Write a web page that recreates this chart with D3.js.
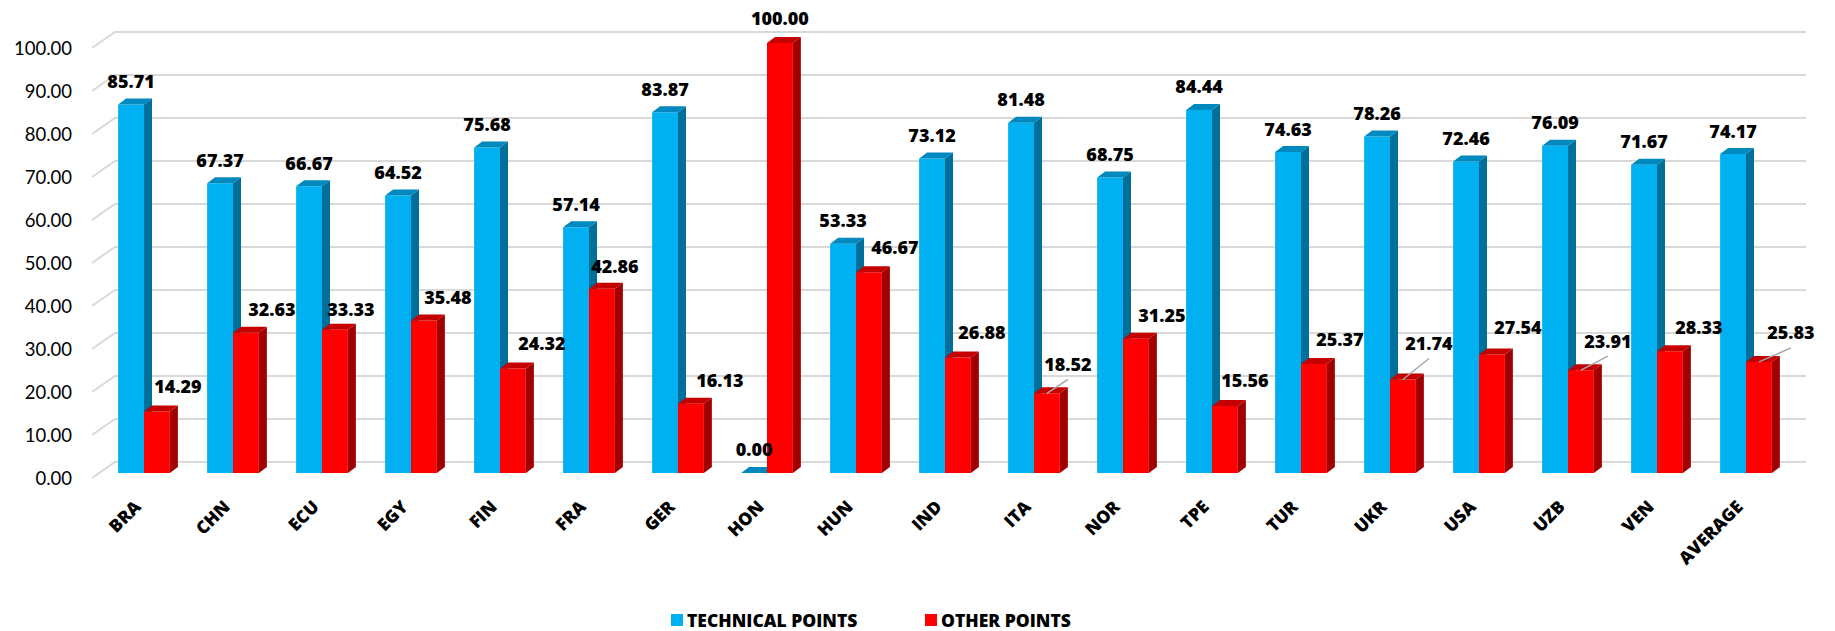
<!DOCTYPE html>
<html>
<head>
<meta charset="utf-8">
<script src="https://cdn.jsdelivr.net/npm/d3@7"></script>
<style>
  body { margin: 0; background: #fff; }
  svg { display: block; }
</style>
</head>
<body>
<div id="chart"></div>
<script>
// ---------------------------DATA-----------------------------------
const categories = ["BRA", "CHN", "ECU", "EGY", "FIN", "FRA", "GER", "HON", "HUN", "IND",
  "ITA", "NOR", "TPE", "TUR", "UKR", "USA", "UZB", "VEN", "AVERAGE"];
const technicalPoints = [85.71, 67.37, 66.67, 64.52, 75.68, 57.14, 83.87, 0.0, 53.33, 73.12,
  81.48, 68.75, 84.44, 74.63, 78.26, 72.46, 76.09, 71.67, 74.17];
const otherPoints = [14.29, 32.63, 33.33, 35.48, 24.32, 42.86, 16.13, 100.0, 46.67, 26.88,
  18.52, 31.25, 15.56, 25.37, 21.74, 27.54, 23.91, 28.33, 25.83];
const seriesNames = ["TECHNICAL POINTS", "OTHER POINTS"];
const yTicks = [0, 10, 20, 30, 40, 50, 60, 70, 80, 90, 100];

// labels of the red series sit beside the bar, as excel placed them [dx, dy]
const redLabelShift = {
  BRA: [21, -25], CHN: [26, -23], ECU: [16, -20], EGY: [24, -23], FIN: [29, -25],
  FRA: [13, -22], GER: [29, -23], HON: [0, -24], HUN: [26, -25], IND: [24, -25],
  ITA: [21, -29], NOR: [26, -23], TPE: [20, -26], TUR: [26, -24], UKR: [26, -36],
  USA: [26, -27], UZB: [27, -29], VEN: [29, -24], AVERAGE: [32, -29]
};
const withLeader = ["ITA", "UKR", "UZB", "AVERAGE"];

// ---------------------------LAYOUT-----------------------------------
const width = 1835;
const height = 631;
const tickFont = "Lato, 'Open Sans', sans-serif";
const boldFont = "'Open Sans', Lato, sans-serif";
const boldWeight = 800;

const depthX = 8, depthY = -6;       // bar depth (side / top faces)
const floorDrop = 11;                // front of bars sits below the back wall
const wallX = 23, wallY = 16;        // left wall diagonal

const colors = {
  front: ["#00B0F0", "#FF0000"],
  side: ["#006F9A", "#A00000"],
  top: ["#0089BE", "#C40000"]
};

const y = d3.scaleLinear().domain([0, 100]).range([462, 32]);
const x = d3.scaleBand().domain(categories).range([99.5, 1790.5]);
const xSub = d3.scaleBand().domain(seriesNames).range([0, x.bandwidth()]).paddingOuter(0.72);

const svg = d3.select("#chart").append("svg")
  .attr("width", width)
  .attr("height", height)
  .attr("viewBox", `0 0 ${width} ${height}`);

// ---------------------------GRID-----------------------------------
const grid = svg.append("g");
const gridLeft = x.range()[0] + 15.5;
const gridRight = x.range()[1] + 15.5;

grid.selectAll("path.grid")
  .data(yTicks)
  .join("path")
  .attr("class", "grid")
  .attr("d", (d) => `M${gridLeft - wallX},${y(d) + wallY}L${gridLeft},${y(d)}L${gridRight},${y(d)}`)
  .attr("fill", "none")
  .attr("stroke", "#D9D9D9")
  .attr("stroke-width", 2);

// y axis labels (no line, no ticks)
const yAxis = svg.append("g")
  .attr("transform", `translate(72, ${floorDrop + 6})`)
  .call(d3.axisLeft(y).tickValues(yTicks).tickFormat(d3.format(".2f")).tickSize(0).tickPadding(0));
yAxis.select(".domain").remove();
yAxis.selectAll("text")
  .attr("font-family", tickFont)
  .attr("font-size", "18.5px")
  .attr("fill", "#000");

// ---------------------------BARS-----------------------------------
const rows = categories.map((c, i) => ({
  cat: c,
  values: [technicalPoints[i], otherPoints[i]]
}));

const bw = xSub.bandwidth();

function barFaces(g, k) {
  g.each(function (d) {
    const v = d.values[k];
    const x0 = x(d.cat) + xSub(seriesNames[k]);
    const x1 = x0 + bw;
    const yb = y(0) + floorDrop;
    const yt = y(v) + floorDrop;
    const sel = d3.select(this);
    // front
    sel.append("path")
      .attr("d", `M${x0},${yb}L${x0},${yt}L${x1},${yt}L${x1},${yb}Z`)
      .attr("fill", colors.front[k]);
    // side
    sel.append("path")
      .attr("d", `M${x1},${yb}L${x1},${yt}L${x1 + depthX},${yt + depthY}L${x1 + depthX},${yb + depthY}Z`)
      .attr("fill", colors.side[k]);
    // top
    sel.append("path")
      .attr("d", `M${x0},${yt}L${x0 + depthX},${yt + depthY}L${x1 + depthX},${yt + depthY}L${x1},${yt}Z`)
      .attr("fill", colors.top[k]);
  });
}

const groups = svg.append("g")
  .selectAll("g.cat")
  .data(rows)
  .join("g")
  .attr("class", "cat");

groups.append("g").call(barFaces, 0);
groups.append("g").call(barFaces, 1);

// ---------------------------LABELS-----------------------------------
const fmt = d3.format(".2f");
const labels = svg.append("g")
  .attr("font-family", boldFont)
  .attr("font-weight", boldWeight)
  .attr("font-size", "18px")
  .attr("fill", "#000")
  .attr("text-anchor", "middle");

labels.selectAll("text.tech")
  .data(rows)
  .join("text")
  .attr("class", "tech")
  .attr("x", (d) => x(d.cat) + xSub(seriesNames[0]) + bw / 2)
  .attr("y", (d) => y(d.values[0]) + floorDrop - 23)
  .attr("dy", "0.36em")
  .text((d) => fmt(d.values[0]));

const redCx = (d) => x(d.cat) + xSub(seriesNames[1]) + bw / 2;
const redTop = (d) => y(d.values[1]) + floorDrop;

svg.append("g")
  .selectAll("line.leader")
  .data(rows.filter((d) => withLeader.includes(d.cat)))
  .join("line")
  .attr("class", "leader")
  .attr("x1", redCx)
  .attr("y1", redTop)
  .attr("x2", (d) => redCx(d) + redLabelShift[d.cat][0])
  .attr("y2", (d) => redTop(d) + redLabelShift[d.cat][1] + 15)
  .attr("stroke", "#A6A6A6")
  .attr("stroke-width", 1.5);

labels.selectAll("text.other")
  .data(rows)
  .join("text")
  .attr("class", "other")
  .attr("x", (d) => redCx(d) + redLabelShift[d.cat][0])
  .attr("y", (d) => redTop(d) + redLabelShift[d.cat][1])
  .attr("dy", "0.36em")
  .text((d) => fmt(d.values[1]));

// category labels, rotated
svg.append("g")
  .selectAll("text.cat")
  .data(categories)
  .join("text")
  .attr("class", "cat")
  .attr("transform", (d) => `translate(${x(d) + x.bandwidth() / 2 - 2}, 508) rotate(-45)`)
  .attr("text-anchor", "end")
  .attr("font-family", boldFont)
  .attr("font-weight", boldWeight)
  .attr("font-size", "17.5px")
  .attr("fill", "#000")
  .text((d) => d);

// ---------------------------LEGEND-----------------------------------
const legendX = [671, 925];
const legend = svg.append("g")
  .selectAll("g.legend")
  .data(seriesNames)
  .join("g")
  .attr("class", "legend")
  .attr("transform", (d, i) => `translate(${legendX[i]}, 614)`);

legend.append("rect")
  .attr("width", 12)
  .attr("height", 12)
  .attr("fill", (d, i) => colors.front[i]);

legend.append("text")
  .attr("x", 16)
  .attr("y", 13)
  .attr("font-family", boldFont)
  .attr("font-weight", boldWeight)
  .attr("font-size", "17.5px")
  .attr("fill", "#000")
  .text((d) => d);
</script>
</body>
</html>
